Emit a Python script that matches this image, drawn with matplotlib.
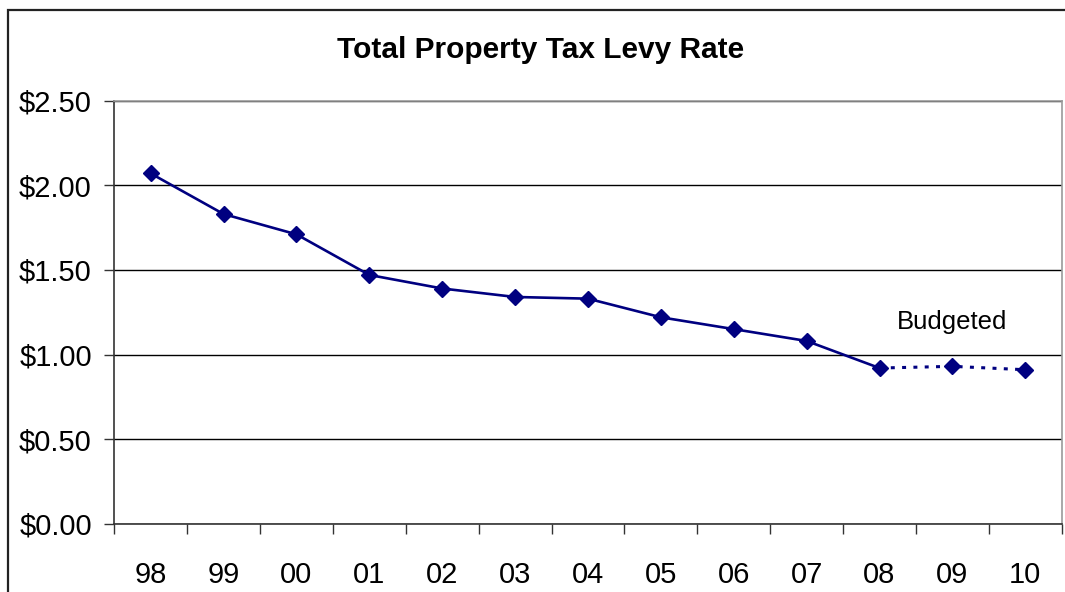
import matplotlib.pyplot as plt
from matplotlib.patches import Rectangle

plt.rcParams['font.family'] = ['Liberation Sans', 'DejaVu Sans']

# data
years = ["98", "99", "00", "01", "02", "03", "04", "05", "06", "07", "08", "09", "10"]
levy_rate = [2.07, 1.83, 1.71, 1.47, 1.39, 1.34, 1.33, 1.22, 1.15, 1.08, 0.92, 0.93, 0.91]
n_actual = 11  # 98..08 actual, 08..10 budgeted (dotted)

navy = "#000080"
W, H = 1065, 592

fig = plt.figure(figsize=(W / 100, H / 100), dpi=100)
ax = fig.add_axes([114.3 / W, 1 - 523.7 / H, (1061.7 - 114.3) / W, (523.7 - 100.7) / H])

x = list(range(len(years)))
ax.plot(x[:n_actual], levy_rate[:n_actual], color=navy, lw=1.9, zorder=3)
ax.plot(x[n_actual - 1:], levy_rate[n_actual - 1:], color=navy, lw=2.2,
        linestyle=(0, (1.3, 2.4)), zorder=3)
ax.plot(x, levy_rate, linestyle="none", marker="D", markersize=8, color=navy, zorder=4)

ax.set_xlim(-0.5, len(years) - 0.5)
ax.set_ylim(0, 2.5)
ax.set_yticks([0, 0.5, 1.0, 1.5, 2.0, 2.5])
ax.set_yticklabels([f"${v:.2f}" for v in [0, 0.5, 1.0, 1.5, 2.0, 2.5]], fontsize=21)
ax.set_xticks(x)
ax.set_xticklabels(years, fontsize=21)
ax.set_xticks([i - 0.5 for i in range(len(years) + 1)], minor=True)
ax.tick_params(axis="x", which="major", length=0, pad=27)
ax.tick_params(axis="x", which="minor", length=7.2, width=1, color="#333333", direction="out")
ax.tick_params(axis="y", length=7.2, width=1, color="#333333", direction="out", pad=9)

ax.grid(axis="y", color="black", lw=1)
ax.set_axisbelow(True)
for side in ["left", "bottom"]:
    ax.spines[side].set_color("#333333")
    ax.spines[side].set_linewidth(1.2)
for side in ["top", "right"]:
    ax.spines[side].set_color("#9a9a9a")
    ax.spines[side].set_linewidth(1.2)

fig.text(541 / W, 1 - 50 / H, "Total Property Tax Levy Rate", fontsize=21.5,
         fontweight="bold", ha="center", va="center")
ax.text(11, 1.19, "Budgeted", fontsize=18.5, ha="center", va="center")

# outer chart border
fig.patches.append(Rectangle((8 / W, -0.1), 1.2, 1 - 10 / H + 0.1, transform=fig.transFigure,
                             fill=False, edgecolor="#222222", lw=1.6))

plt.savefig("out.png", dpi=100)
plt.close()
